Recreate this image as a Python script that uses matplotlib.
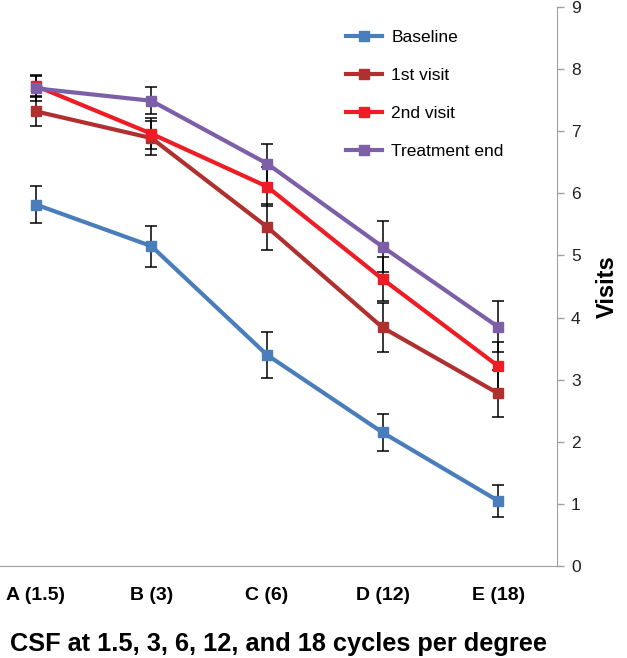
import matplotlib
matplotlib.use("Agg")
import matplotlib.pyplot as plt
from matplotlib.lines import Line2D

plt.rcParams['font.family'] = ['Liberation Sans', 'DejaVu Sans']

categories = ["A (1.5)", "B (3)", "C (6)", "D (12)", "E (18)"]
series_names = ["Baseline", "1st visit", "2nd visit", "Treatment end"]
baseline = [5.82, 5.15, 3.40, 2.15, 1.05]
baseline_err = [0.30, 0.33, 0.37, 0.30, 0.26]
first_visit = [7.32, 6.89, 5.46, 3.84, 2.78]
first_visit_err = [0.23, 0.27, 0.37, 0.39, 0.38]
second_visit = [7.73, 6.96, 6.11, 4.62, 3.22]
second_visit_err = [0.17, 0.25, 0.31, 0.36, 0.38]
treatment_end = [7.69, 7.49, 6.48, 5.14, 3.85]
treatment_end_err = [0.20, 0.22, 0.31, 0.41, 0.41]
yticks = list(range(0, 10))

colors = ["#4A7EBB", "#B03030", "#EE1C25", "#7D5FA8"]
values = [baseline, first_visit, second_visit, treatment_end]
errors = [baseline_err, first_visit_err, second_visit_err, treatment_end_err]

fig = plt.figure(figsize=(6.27, 6.58), dpi=100)
ax = fig.add_axes([0.0, 1 - 566 / 658, 557 / 627, (566 - 7) / 658])

x = list(range(len(categories)))
for i, (name, vals, errs, c) in enumerate(zip(series_names, values, errors, colors)):
    ax.errorbar(x, vals, yerr=errs, fmt='none', ecolor='black', elinewidth=1.1,
                capsize=4.5, capthick=1.1, zorder=2 + i * 0.1)
    ax.plot(x, vals, color=c, lw=3.0, marker='s', markersize=7,
            zorder=3 + i * 0.1, label=name)

ax.set_xlim(-0.31, 4.51)
ax.set_ylim(0, 9)
ax.set_xticks(x)
ax.set_xticklabels(categories, fontsize=14, fontweight='bold')
ax.tick_params(axis='x', length=0, pad=15)
ax.yaxis.tick_right()
ax.yaxis.set_label_position('right')
ax.set_yticks(yticks)
ax.set_yticklabels([str(t) for t in yticks], fontsize=12.5, color='#222222')
ax.tick_params(axis='y', length=5, color='#A0A0A0', width=1, pad=5)

for s in ['top', 'left']:
    ax.spines[s].set_visible(False)
ax.spines['right'].set_color('#A0A0A0')
ax.spines['bottom'].set_color('#A0A0A0')

ax.set_ylabel("Visits", fontsize=17, fontweight='bold', labelpad=11)
fig.text(10 / 627, 1 - 644 / 658, "CSF at 1.5, 3, 6, 12, and 18 cycles per degree",
         fontsize=18.3, fontweight='bold', ha='left', va='center')

leg_handles = [Line2D([0], [0], color=c, lw=3.0, marker='s', markersize=7)
               for c in colors]
fig.legend(leg_handles, series_names, loc='upper left',
           bbox_to_anchor=(346 / 627, 1 - 30 / 658), frameon=False,
           fontsize=12.5, handlelength=2.1, handletextpad=0.5,
           labelspacing=1.32, borderpad=0, borderaxespad=0)

fig.savefig("out.png", dpi=100)
